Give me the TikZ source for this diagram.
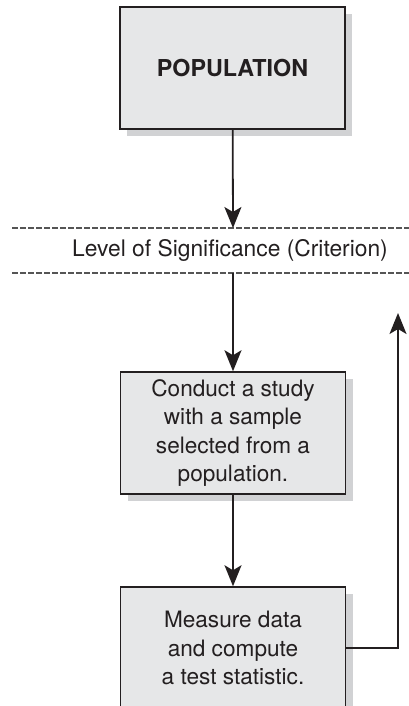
\documentclass[tikz,border=0pt]{standalone}
\usepackage{fontspec}
\setmainfont{TeX Gyre Heros}
\usetikzlibrary{arrows.meta, shadows}
\usepackage{xcolor}
\definecolor{boxfill}{HTML}{E6E7E8}
\definecolor{shadowgray}{HTML}{D1D2D4}
\definecolor{inkgray}{HTML}{231F20}
\definecolor{dashgray}{HTML}{555555}

\tikzset{
    stepbox/.style={draw=inkgray, line width=1.5pt, fill=boxfill, minimum width=225pt, minimum height=122pt,
        align=center, text=inkgray, font=\fontsize{22.6}{28.4}\selectfont,
        drop shadow={shadow xshift=7pt, shadow yshift=-7pt, fill=shadowgray, opacity=1}},
    flow/.style={draw=inkgray, line width=1.8pt, -{Stealth[length=21pt, width=17pt, inset=5pt]}},
    critline/.style={draw=dashgray, line width=1.5pt, dash pattern=on 6pt off 2pt},
    crittext/.style={text=inkgray, font=\fontsize{22.8}{28.4}\selectfont},
}

\begin{document}
\begin{tikzpicture}[x=1pt, y=-1pt]
    \useasboundingbox (0,0) rectangle (409,706);

    % Population box
    \node[stepbox, font=\bfseries\fontsize{23.3}{28}\selectfont] (pop) at (232.5,68) {POPULATION};

    % Criterion band (dashed)
    \coordinate (sigtop) at (233,228);
    \coordinate (sigbot) at (233,273);
    \draw[critline] (12,228) -- (409,228);
    \draw[critline] (12,273) -- (409,273);
    \node[crittext] (crit) at (230,250) {Level of Significance (Criterion)};

    % Study boxes
    \node[stepbox] (study) at (233,433) {Conduct a study\\with a sample\\selected from a\\population.};
    \node[stepbox] (measure) at (233,648) {Measure data\\and compute\\a test statistic.};

    % Flow arrows
    \draw[flow] (pop) -- (sigtop);
    \draw[flow] (sigbot) -- (study);
    \draw[flow] (study) -- (measure);

    % Feedback path back up
    \coordinate (back) at (398,313);
    \draw[flow] (measure.east) -- (back |- measure.east) -- (back);
\end{tikzpicture}
\end{document}
